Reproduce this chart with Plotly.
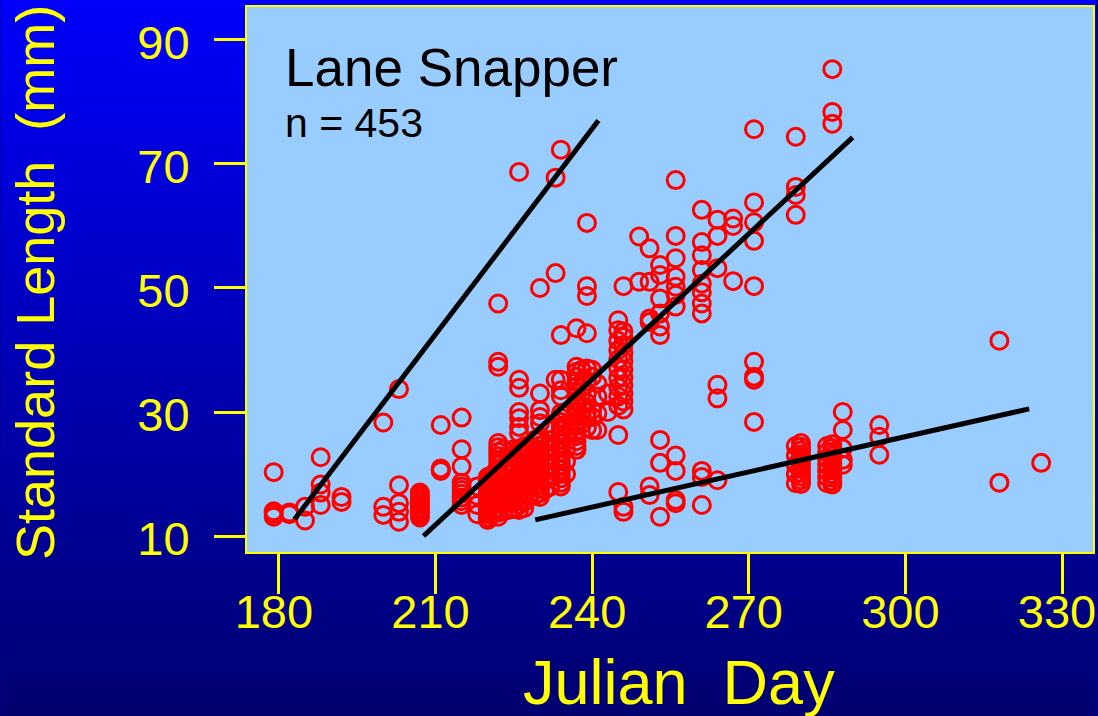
import base64, struct, zlib
import plotly.graph_objects as go

# ---------------- data ----------------
# Julian day columns and the standard lengths (mm) of the fish observed on each
col_days = [179, 182, 185, 188, 192, 200, 203, 207, 211, 215,
            218, 220, 221, 222, 223, 224, 225, 226, 227, 228,
            229, 230, 231, 232, 233, 234, 235, 237, 238, 239,
            240, 241, 243, 245, 246, 249, 251, 253, 256, 261,
            264, 267, 271, 279, 280, 285, 286, 288, 295, 318, 326]
col_lengths = [
    [20.3, 14.0, 13.6, 13.1],
    [13.8, 13.5],
    [14.7, 12.5],
    [22.7, 18.3, 17.0, 15.0],
    [16.3, 15.5],
    [28.3, 14.7, 13.4],
    [33.7, 18.2, 15.3, 13.9, 12.3],
    [17.0, 16.6, 16.2, 15.8, 15.4, 15.0, 14.6, 14.2, 13.8, 13.4, 13.0],
    [27.9, 20.9, 20.5, 20.7],
    [29.1, 24.0, 21.2, 18.6, 18.0, 17.4, 16.8, 16.2, 15.6, 15.0],
    [18.0, 16.5, 15.0, 13.5],
    [19.5, 19.0, 18.5, 18.0, 17.5, 17.0, 16.5, 16.0, 15.5, 15.0, 14.5, 14.0, 13.5, 13.0, 12.6],
    [20.0, 19.0, 18.0, 17.0, 16.0, 15.0, 14.0, 13.5],
    [47.5, 38.1, 37.3, 25.0, 24.3, 23.6, 22.9, 22.2, 21.5, 20.8, 20.1, 19.4, 18.7,
     18.0, 17.3, 16.6, 15.9, 15.2, 14.5, 13.8, 13.1],
    [24.0, 22.5, 21.0, 19.5, 18.0, 16.5, 15.0, 14.0],
    [23.0, 21.5, 20.0, 18.5, 17.0, 15.5, 14.2],
    [24.0, 22.8, 21.6, 20.4, 19.2, 18.0, 16.8, 15.6, 14.4],
    [68.7, 35.2, 33.9, 30.0, 29.0, 27.6, 26.6, 24.0, 23.4, 22.7, 22.0, 21.3, 20.6,
     19.9, 19.2, 18.5, 17.8, 17.1, 16.4, 15.7, 15.0, 14.2],
    [24.5, 23.0, 21.5, 20.0, 18.5, 17.0, 15.5, 14.5],
    [22.0, 20.0, 18.0, 16.5],
    [25.5, 24.0, 22.5, 21.0, 19.5, 18.0, 16.5],
    [50.0, 33.0, 30.3, 29.2, 28.2, 26.0, 25.3, 24.6, 23.9, 23.2, 22.5, 21.8, 21.1,
     20.4, 19.7, 19.0, 18.3, 17.6, 16.9, 16.3],
    [25.0, 23.5, 22.0, 20.5, 19.0, 17.5],
    [27.0, 25.5, 24.0, 22.5, 21.0, 19.5, 18.0],
    [67.8, 52.4, 35.2],
    [72.3, 42.4, 35.2, 33.5, 32.5, 29.8, 29.1, 28.4, 27.7, 27.0, 26.3, 25.6, 24.9,
     24.2, 23.5, 22.8, 22.1, 21.4, 20.7, 20.0, 19.3, 18.6, 18.0],
    [30.0, 28.0, 26.0, 24.0, 22.0, 20.0],
    [43.5, 37.3, 36.5, 35.7, 34.9, 34.1, 33.3, 32.5, 31.7, 30.9, 30.1, 29.3, 28.5,
     27.7, 26.9, 26.1, 25.3, 24.5, 23.9],
    [36.8, 34.0, 31.0, 29.5, 28.0],
    [60.5, 50.3, 48.7, 42.7, 37.0, 35.0, 33.0, 31.5, 30.0, 29.0, 27.5],
    [36.8, 35.7, 30.3, 29.2, 27.1],
    [34.6, 32.5, 29.8, 27.1],
    [33.0, 30.0],
    [44.8, 43.2, 41.5, 40.0, 38.5, 37.0, 35.5, 34.0, 32.5, 31.0, 26.3, 17.1],
    [50.3, 43.0, 42.1, 40.8, 39.5, 38.2, 36.9, 35.6, 34.3, 33.0, 31.7, 30.4, 14.7, 13.9],
    [58.3, 51.0],
    [56.4, 51.0, 45.1, 44.5, 18.0, 16.6],
    [53.7, 52.1, 48.3, 45.9, 43.8, 42.4, 25.5, 21.8, 13.1],
    [67.4, 58.4, 54.8, 51.8, 50.2, 48.9, 47.0, 23.0, 20.5, 15.8, 15.3],
    [62.6, 57.4, 55.3, 52.9, 50.7, 49.3, 47.5, 45.9, 20.5, 19.5, 15.0],
    [61.0, 58.4, 53.2, 34.4, 32.2, 19.0],
    [61.2, 60.0, 51.1],
    [75.6, 63.8, 60.6, 57.6, 50.3, 38.1, 35.7, 35.2, 28.4],
    [74.4, 66.3, 65.0, 61.8, 24.5, 23.0, 21.5, 20.0, 18.5],
    [25.0, 24.4, 23.8, 23.2, 22.6, 22.0, 21.4, 20.8, 20.2, 19.6, 19.0, 18.4],
    [24.5, 23.5, 22.5, 21.5, 20.5, 19.5, 18.5],
    [85.3, 78.4, 76.5, 24.8, 24.2, 23.6, 23.0, 22.4, 21.8, 21.2, 20.6, 20.0, 19.4, 18.8, 18.3],
    [30.0, 27.1, 24.1, 22.3, 21.5],
    [27.9, 26.0, 23.1],
    [41.5, 18.6],
    [21.8],
]

# three fitted growth lines (endpoints: day, length)
line1_day = [183.0, 241.2]
line1_len = [12.7, 77.0]
line2_day = [207.7, 289.9]
line2_len = [10.0, 74.3]
line3_day = [229.1, 323.7]
line3_len = [12.6, 30.5]

x_ticks = [180, 210, 240, 270, 300, 330]
y_ticks = [10, 30, 50, 70, 90]

title_text = "Lane Snapper"
n_text = "n = 453"
x_title = "Julian\u00a0\u00a0Day"
y_title = "Standard Length\u00a0\u00a0(mm)"

# ---------------- figure ----------------
W, H = 1098, 716
L, R, T, B = 247, 3, 7, 164
PW, PH = W - L - R, H - T - B

days = []
lengths = []
for d, vals in zip(col_days, col_lengths):
    for v in vals:
        days.append(d)
        lengths.append(v)


def gradient_png(h, top, bottom):
    raw = b""
    for i in range(h):
        t = i / (h - 1)
        px = bytes(int(round(a + (b - a) * t)) for a, b in zip(top, bottom))
        raw += b"\x00" + px

    def chunk(tag, data):
        c = struct.pack(">I", len(data)) + tag + data
        return c + struct.pack(">I", zlib.crc32(tag + data) & 0xffffffff)

    png = b"\x89PNG\r\n\x1a\n"
    png += chunk(b"IHDR", struct.pack(">IIBBBBB", 1, h, 8, 2, 0, 0, 0))
    png += chunk(b"IDAT", zlib.compress(raw))
    png += chunk(b"IEND", b"")
    return "data:image/png;base64," + base64.b64encode(png).decode()


FONT = "Liberation Sans, Arial, Helvetica, sans-serif"
YEL = "#FFFF00"

fig = go.Figure()
fig.add_trace(go.Scatter(
    x=days, y=lengths, mode="markers",
    marker=dict(symbol="circle-open", size=17, color="#FF0000",
                line=dict(width=3, color="#FF0000")),
    hoverinfo="x+y", showlegend=False))
for xd, yl in [(line1_day, line1_len), (line2_day, line2_len), (line3_day, line3_len)]:
    fig.add_trace(go.Scatter(x=xd, y=yl, mode="lines",
                             line=dict(color="black", width=5), showlegend=False))


def px2paper_x(px):
    return (px - L) / PW


def px2paper_y(py):
    return (H - B - py) / PH


fig.update_layout(
    width=W, height=H,
    margin=dict(l=L, r=R, t=T, b=B, pad=0),
    paper_bgcolor="#000090",
    plot_bgcolor="rgba(0,0,0,0)",
    font=dict(family=FONT, color=YEL),
    images=[dict(source=gradient_png(256, (0, 0, 252), (0, 0, 112)),
                 xref="paper", yref="paper", x=px2paper_x(0), y=px2paper_y(0),
                 sizex=W / PW, sizey=H / PH, xanchor="left", yanchor="top",
                 sizing="stretch", layer="below")],
    shapes=[dict(type="rect", xref="paper", yref="paper", x0=0, x1=1, y0=0, y1=1,
                 fillcolor="#99CCFF", line=dict(width=0), layer="below")],
    xaxis=dict(range=[173.89, 335.93], tickvals=x_ticks, ticktext=[str(v) for v in x_ticks],
               showgrid=False, zeroline=False, showline=True, mirror=True,
               linecolor=YEL, linewidth=2, ticks="outside", ticklen=40, tickwidth=3,
               tickcolor=YEL, tickfont=dict(size=47, color=YEL, family=FONT),
               ticklabelshift=-5, ticklabelstandoff=-22),
    yaxis=dict(range=[7.42, 95.32], tickvals=y_ticks, ticktext=[str(v) for v in y_ticks],
               showgrid=False, zeroline=False, showline=True, mirror=True,
               linecolor=YEL, linewidth=2, ticks="outside", ticklen=31, tickwidth=3,
               tickcolor=YEL, tickfont=dict(size=47, color=YEL, family=FONT),
               ticklabelstandoff=15, ticklabelshift=3),
    annotations=[
        dict(text=title_text, xref="paper", yref="paper", x=px2paper_x(283), y=px2paper_y(67.5),
             xanchor="left", yanchor="middle", showarrow=False,
             font=dict(size=53, color="black", family=FONT)),
        dict(text=n_text, xref="paper", yref="paper", x=px2paper_x(283), y=px2paper_y(123),
             xanchor="left", yanchor="middle", showarrow=False,
             font=dict(size=41, color="black", family=FONT)),
        dict(text=x_title, xref="paper", yref="paper", x=px2paper_x(680), y=px2paper_y(682),
             xanchor="center", yanchor="middle", showarrow=False,
             font=dict(size=63, color=YEL, family=FONT)),
        dict(text=y_title, xref="paper", yref="paper", x=px2paper_x(34), y=px2paper_y(282.5),
             xanchor="center", yanchor="middle", showarrow=False, textangle=-90,
             font=dict(size=54, color=YEL, family=FONT)),
    ],
)

fig.write_html("out.html")
